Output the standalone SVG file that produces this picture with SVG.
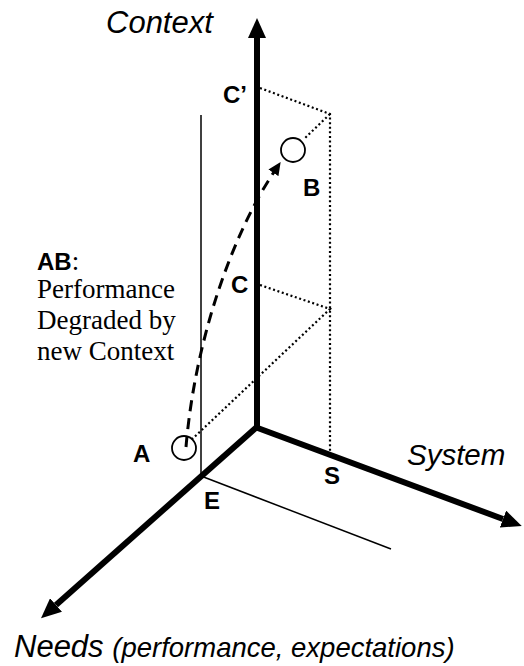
<svg xmlns="http://www.w3.org/2000/svg" width="524" height="666" viewBox="0 0 524 666">
<style>
.axis{stroke:#000;stroke-width:6;fill:none;stroke-linecap:butt}
.thin{stroke:#000;stroke-width:1.5;fill:none}
.dot{stroke:#000;stroke-width:2.2;fill:none;stroke-dasharray:2 2.6}
.dash{stroke:#000;stroke-width:3;fill:none;stroke-dasharray:11 7}
.pt{stroke:#000;stroke-width:1.8;fill:#fff}
.ax{font-family:"Liberation Sans",Arial,sans-serif;font-style:italic;fill:#000}
.lbl{font-family:"Liberation Sans",Arial,sans-serif;font-weight:bold;font-size:24px;fill:#000}
.tm{font-family:"Liberation Serif","Times New Roman",serif;font-size:27px;fill:#000}
</style>
<defs>
<marker id="arr" viewBox="0 0 20 18" refX="0" refY="9" markerWidth="20" markerHeight="18" markerUnits="userSpaceOnUse" orient="auto">
<path d="M0,0 L20,9 L0,18 z" fill="#000"/>
</marker>
<marker id="arrS" viewBox="0 0 13 12" refX="1" refY="6" markerWidth="13" markerHeight="12" markerUnits="userSpaceOnUse" orient="auto">
<path d="M0,0 L13,6 L0,12 z" fill="#000"/>
</marker>
</defs>
<g id="connectors">
<line class="thin" x1="201" y1="115" x2="201" y2="477"/>
<line class="thin" x1="201" y1="476" x2="391" y2="549"/>
<polyline class="dot" points="260,88 330,114 330,453"/>
<line class="dot" x1="330" y1="114" x2="304" y2="139"/>
<polyline class="dot" points="260,285 330,309 188,443"/>
<line class="axis" x1="257" y1="430" x2="257" y2="38" marker-end="url(#arr)"/>
<line class="axis" x1="255" y1="427" x2="503" y2="519" marker-end="url(#arr)"/>
<line class="axis" x1="259" y1="425" x2="56" y2="605" marker-end="url(#arr)"/>
</g>
<g id="nodeA"><circle class="pt" cx="184" cy="448" r="12"/><text class="lbl" x="133" y="462">A</text></g>
<g id="nodeB"><circle class="pt" cx="293" cy="150" r="12"/><text class="lbl" x="303" y="196">B</text></g>
<g id="curveAB"><path class="dash" d="M186,447 C195,340 232,235 274,172" marker-end="url(#arrS)"/></g>
<g id="labelC1"><text class="lbl" x="223" y="103">C’</text></g>
<g id="labelC"><text class="lbl" x="231" y="293">C</text></g>
<g id="labelE"><text class="lbl" x="204" y="509">E</text></g>
<g id="labelS"><text class="lbl" x="324" y="484">S</text></g>
<g id="context"><text class="ax" x="106" y="33" font-size="31">Context</text></g>
<g id="system"><text class="ax" x="407" y="465" font-size="29.5">System</text></g>
<g id="needs"><text class="ax" x="14" y="657" font-size="31">Needs <tspan font-size="27.5">(performance, expectations)</tspan></text></g>
<g id="note">
<text x="37" y="270"><tspan class="lbl">AB</tspan><tspan class="tm">:</tspan></text>
<text class="tm" x="37" y="298">Performance</text>
<text class="tm" x="37" y="329">Degraded by</text>
<text class="tm" x="37" y="360">new Context</text>
</g>
</svg>
